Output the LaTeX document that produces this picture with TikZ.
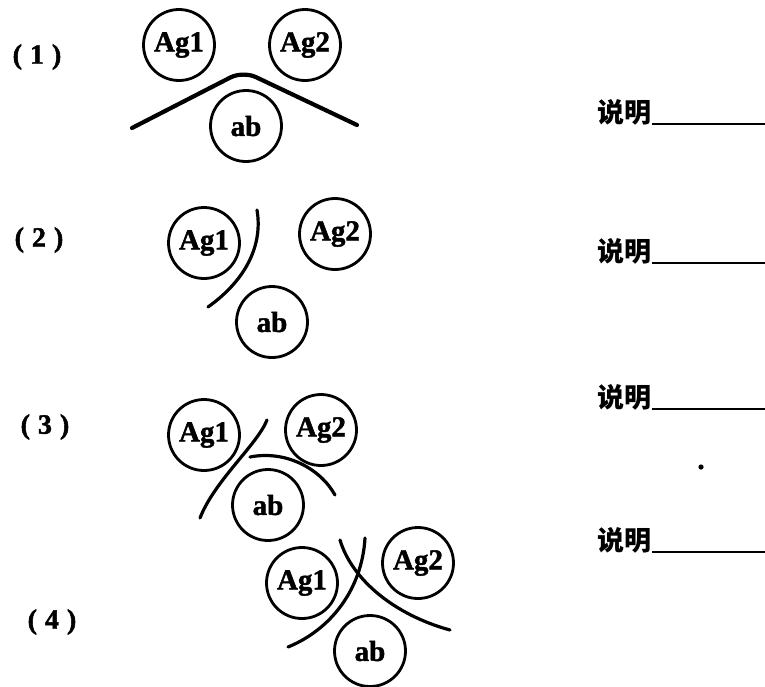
\documentclass[tikz,border=0pt]{standalone}
\usepackage{fontspec}
\newfontfamily\cjk{Noto Sans CJK SC}
\newfontfamily\heavy{Liberation Serif}[BoldFeatures={FakeBold=1.5}]
\begin{document}
\begin{tikzpicture}[x=1pt,y=-1pt,
  ball/.style={circle,draw,line width=2.8pt,minimum size=71pt,inner sep=0pt,
    font=\heavy\bfseries\fontsize{29}{29}\selectfont},
  bond/.style={line width=3.2pt,line cap=round},
  num/.style={font=\heavy\bfseries\fontsize{28}{28}\selectfont},
  note/.style={font=\cjk\bfseries\fontsize{27}{27}\selectfont,inner sep=0pt,anchor=west}]
\useasboundingbox (0,0) rectangle (765,686);

% case (1)
\node[num] (n1) at (37,57) {(\hspace{8pt}1\hspace{8pt})};
\node[ball] (a11) at (179,45) {Ag1};
\node[ball] (a12) at (305,45) {Ag2};
\node[ball] (b1) at (246,126) {ab};
\coordinate (l1s) at (132,128);
\coordinate (l1p) at (243,71);
\coordinate (l1e) at (357,125);
\draw[bond,line width=4.2pt,rounded corners=14pt] (l1s) -- (l1p) -- (l1e);

% case (2)
\node[num] (n2) at (39,240) {(\hspace{8pt}2\hspace{8pt})};
\node[ball] (a21) at (204,243) {Ag1};
\node[ball] (a22) at (335,234) {Ag2};
\node[ball] (b2) at (272,322) {ab};
\coordinate (c2s) at (257,210);
\coordinate (c2e) at (208,307);
\draw[bond] (c2s) .. controls (263,245) and (246,280) .. (c2e);

% case (3)
\node[num] (n3) at (45,427) {(\hspace{8pt}3\hspace{8pt})};
\node[ball] (a31) at (204,435) {Ag1};
\node[ball] (a32) at (321,430) {Ag2};
\node[ball] (b3) at (268,505) {ab};
\coordinate (c3s) at (267,420);
\coordinate (c3e) at (200,518);
\coordinate (d3s) at (250,457);
\coordinate (d3e) at (335,495);
\draw[bond] (c3s) .. controls (257,445) and (215,480) .. (c3e);
\draw[bond] (d3s) .. controls (285,450) and (320,468) .. (d3e);

% case (4)
\node[num] (n4) at (52,622) {(\hspace{8pt}4\hspace{8pt})};
\node[ball] (a41) at (302,583) {Ag1};
\node[ball] (a42) at (418,563) {Ag2};
\node[ball] (b4) at (370,651) {ab};
\coordinate (c4s) at (340,540);
\coordinate (c4e) at (450,630);
\coordinate (d4s) at (365,538);
\coordinate (d4e) at (288,647);
\draw[bond] (c4s) .. controls (352,580) and (395,615) .. (c4e);
\draw[bond] (d4s) .. controls (362,590) and (330,630) .. (d4e);

% answer lines
\foreach \i/\y in {1/112,2/251,3/397,4/540}{
  \node[note] (t\i) at (597,\y) {说明};
  \coordinate (u\i) at (765,\y+12);
  \draw[line width=1.2pt] ([xshift=1pt]t\i.east |- u\i) -- (u\i);
}
\fill (701,467) circle (2.6pt);
\end{tikzpicture}
\end{document}
